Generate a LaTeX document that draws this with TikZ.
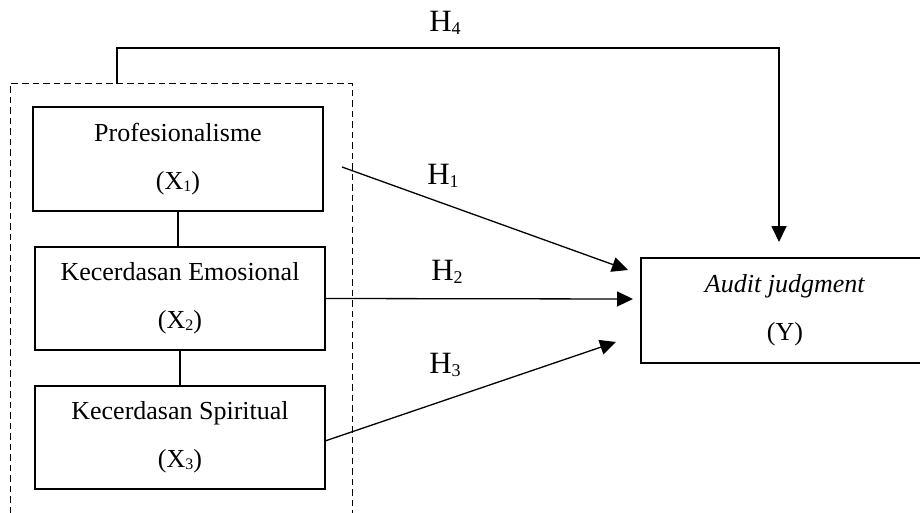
\documentclass[tikz,border=0pt]{standalone}
\usepackage{fontspec}
\setmainfont{Liberation Serif}
\usetikzlibrary{arrows.meta}
\newcommand\mysub[1]{\raisebox{-2pt}{\fontsize{16}{16}\selectfont #1}}
\newcommand\hsub[1]{\raisebox{-3pt}{\fontsize{18}{18}\selectfont #1}}
\begin{document}
\begin{tikzpicture}[x=1pt,y=-1pt,
  box/.style={draw, line width=1.3pt, align=center, inner sep=0pt, font=\fontsize{26}{48}\selectfont},
  lab/.style={anchor=base, inner sep=0pt, font=\fontsize{31}{31}\selectfont},
  arr/.style={line width=1.3pt, -{Triangle[length=16pt,width=15pt]}},
  link/.style={line width=1.3pt},
  group/.style={line width=1pt, dash pattern=on 6.5pt off 4pt}]
\useasboundingbox (0,0) rectangle (920,513);
% group outline (bottom edge lies below the picture)
\draw[group] (10,513) -- (10,84) -- (352,84) -- (352,513);
% boxes
\node[box, minimum width=290pt, minimum height=104pt] (x1) at (178,159) {Profesionalisme\\(X\mysub{1})};
\node[box, minimum width=290pt, minimum height=103pt] (x2) at (180,298.5) {Kecerdasan Emosional\\(X\mysub{2})};
\node[box, minimum width=290pt, minimum height=103pt] (x3) at (180,437.5) {Kecerdasan Spiritual\\(X\mysub{3})};
\node[box, minimum width=288pt, minimum height=105pt] (y) at (785,310.5) {\textit{Audit judgment}\\(Y)};
% links between variables
\draw[link] (x1.south) -- (x1.south |- x2.north);
\draw[link] (x2.south) -- (x2.south |- x3.north);
% coordinates
\coordinate (g) at (117,84);
\coordinate (h4t) at (779,48);
\coordinate (h4e) at (779,242);
\coordinate (h1s) at (342,167);
\coordinate (h1e) at (628,270);
\coordinate (h2e) at (633,299);
\coordinate (h3s) at (325,441);
\coordinate (h3e) at (616,342);
% arrows
\draw[line width=1.8pt, -{Triangle[length=16pt,width=15pt]}] (g) |- (h4t) -- (h4e);
\draw[arr] (h1s) -- (h1e);
\draw[arr] (x2.east) -- (h2e);
\draw[arr] (h3s) -- (h3e);
% labels
\node[lab] (l4) at (445,32) {H\hsub{4}};
\node[lab] (l1) at (443,184) {H\hsub{1}};
\node[lab] (l2) at (447,280) {H\hsub{2}};
\node[lab] (l3) at (445,373) {H\hsub{3}};
\end{tikzpicture}
\end{document}
